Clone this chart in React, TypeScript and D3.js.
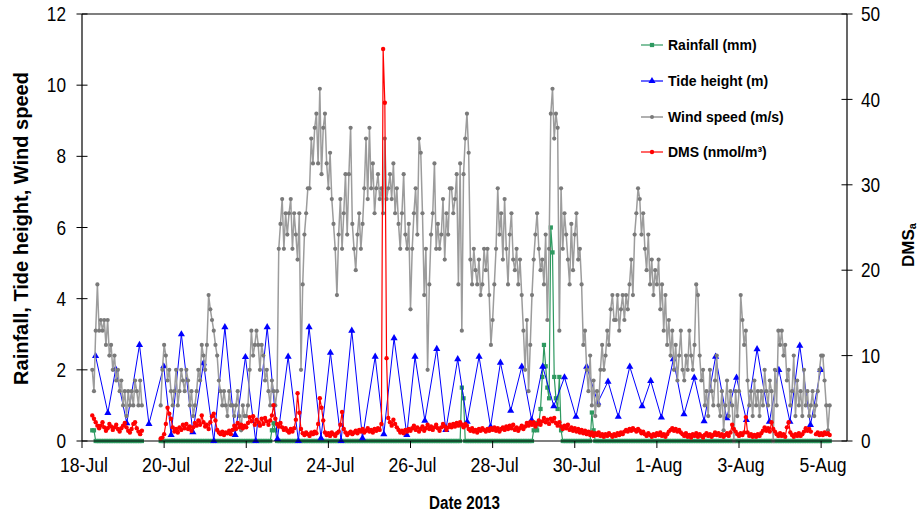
import { useEffect } from "react";
import * as d3 from "d3";

// hourly readings start 18-Jul 06:00; null = no record
const FIRST_READING = Date.UTC(2013, 6, 18, 6);

const windSpeed: (number | null)[] = [
  2.0, 1.4, 3.1, 4.4, 3.1, 3.4, 3.1, 3.4, 2.7, 3.4, 2.4, 2.7, 2.0, 2.4, 1.7, 2.0, 1.4, 1.7,
  1.0, 1.4, 0.7, 1.4, 1.0, 1.4, 1.0, 1.7, 1.4, 1.0, 1.7, 1.0, null, null, null, null, null, null, null, null, null, null, 1.0, 2.0,
  2.7, 2.4, 1.7, 2.0, 1.4, 1.0, 1.4, 2.0, 1.0, 1.4, 2.0, 1.7, 1.4, 2.0, 1.7, 1.0, 1.4, 0.7, 1.0, 1.4, 2.0, 1.7, 2.7, 2.4,
  2.0, 2.7, 4.1, 3.7, 3.4, 3.1, 2.7, 2.4, 1.7, 1.4, 1.0, 1.4, 1.0, 0.7, 1.4, 1.0, 1.0, 0.7, 1.0, 1.4, 0.7, 0.3, 1.0, 0.7,
  0.7, 1.0, 2.0, 3.1, 2.4, 2.7, 3.1, 2.7, 2.0, 2.7, 2.4, 1.7, 2.0, 1.4, 1.0, 1.7, 1.4, 1.0, 1.4, 5.4, 6.1, 6.8, 5.4, 6.4,
  5.8, 6.4, 6.8, 5.4, 6.4, 5.8, 5.1, 6.4, 2.0, 4.4, 5.8, 6.4, 7.1, 7.1, 8.5, 7.8, 8.8, 9.2, 7.8, 9.9, 7.5, 8.8, 9.2, 7.8,
  7.1, 8.1, 6.8, 6.1, 5.4, 4.1, 5.8, 6.8, 5.4, 6.4, 7.5, 5.8, 7.5, 8.8, 6.1, 5.4, 4.8, 5.8, 6.4, 5.4, 6.1, 7.1, 8.5, 6.8,
  8.8, 7.1, 7.8, 6.4, 7.1, 7.5, 6.8, 7.1, 6.4, 8.5, 6.8, 7.1, 7.5, 6.8, 7.8, 6.4, 7.1, 6.1, 5.4, 6.4, 7.5, 5.8, 5.4, 6.1,
  3.7, 5.4, 6.4, 7.1, 5.8, 8.5, 8.1, 6.4, 4.1, 5.4, 2.0, 4.4, 5.8, 6.4, 7.8, 5.4, 6.1, 5.4, 5.8, 6.8, 5.1, 6.4, 5.8, 7.1,
  7.1, 6.4, 6.8, 7.5, 4.4, 7.8, 3.1, 7.5, 8.5, 9.2, 8.1, 5.1, 4.4, 5.4, 4.8, 4.4, 5.1, 4.1, 4.4, 5.4, 4.8, 5.4, 4.1, 2.7,
  3.4, 4.4, 5.4, 7.1, 5.8, 6.4, 5.1, 6.8, 5.4, 4.4, 5.8, 6.4, 5.1, 4.8, 5.4, 4.4, 5.1, 4.1, 3.1, 2.0, 3.4, 1.4, 2.7, 4.1,
  5.1, 5.8, 6.4, 5.4, 4.8, 5.1, 4.4, 5.8, 3.4, 5.4, 9.2, 9.9, 8.5, 9.2, 8.8, 3.1, 7.1, 5.4, 6.4, 5.8, 5.1, 4.4, 6.1, 4.8,
  5.8, 6.4, 5.1, 5.4, 4.4, 2.7, 3.1, 2.0, 1.4, 2.4, 1.0, 1.7, 0.7, 1.4, 1.0, 2.0, 2.7, 2.0, 2.4, 3.1, 2.7, 3.7, 4.1, 3.4,
  3.4, 4.1, 3.1, 3.7, 4.1, 3.4, 4.1, 3.7, 4.4, 5.1, 4.1, 5.8, 6.4, 7.1, 6.8, 5.8, 6.4, 5.4, 4.8, 5.8, 4.4, 5.1, 4.1, 4.8,
  4.4, 5.1, 3.7, 4.4, 3.1, 4.1, 2.7, 3.4, 2.4, 3.1, 2.0, 2.7, 1.7, 2.4, 3.1, 2.0, 1.7, 2.4, 2.0, 3.1, 2.4, 2.0, 2.7, 4.4,
  4.1, 2.4, 1.7, 2.0, 1.0, 1.4, 0.7, 2.0, 1.4, 1.0, 1.7, 2.4, 1.0, 0.7, 1.4, 0.3, 1.0, 1.7, 0.7, 1.4, 1.0, 0.0, 1.4, 0.7,
  1.4, 4.1, 3.4, 2.7, 3.1, 1.7, 1.0, 1.4, 0.7, 1.7, 1.0, 1.4, 0.7, 1.4, 1.0, 2.0, 1.4, 1.0, 1.7, 1.4, 0.0, 2.0, 1.0, 3.1,
  2.7, 3.1, 2.4, 2.7, 1.7, 2.0, 1.0, 1.4, 2.4, 0.7, 1.7, 1.0, 1.4, 0.7, 2.0, 1.0, 1.4, 0.7, 1.0, 1.4, 0.7, 1.0, 1.4, 2.0,
  2.4, 2.4, 1.7, 1.0, 0.3, 1.0,
];

const dmsAir: (number | null)[] = [
  3.0, 2.6, 2.2, 1.8, 1.5, 1.8, 2.2, 1.6, 1.2, 1.5, 2.0, 1.7, 1.3, 1.6, 1.9, 1.4, 1.1, 1.5,
  1.8, 2.1, 1.6, 1.2, 1.0, 1.4, 2.0, 2.2, 1.5, 1.1, 0.8, 1.2, null, null, null, null, null, null, null, null, null, null, 0.3, 0.4,
  0.8, 2.0, 3.9, 3.2, 2.6, 1.6, 1.1, 1.4, 1.0, 1.6, 1.3, 1.9, 1.5, 2.0, 1.4, 1.7, 1.2, 1.6, 2.1, 1.8, 2.4, 1.9, 3.0, 2.2,
  1.7, 1.9, 1.4, 2.2, 2.9, 3.2, 2.4, 1.3, 1.0, 0.8, 1.1, 0.7, 1.0, 0.9, 1.2, 0.8, 1.3, 1.8, 1.4, 2.1, 1.6, 1.9, 1.5, 1.8,
  1.6, 2.1, 2.8, 2.3, 2.9, 1.9, 2.5, 2.2, 1.8, 2.6, 2.0, 2.7, 2.3, 1.9, 2.4, 3.0, 4.2, 2.6, 2.0, 1.7, 2.1, 1.6, 1.3, 1.5,
  1.2, 1.0, 1.4, 1.1, 1.5, 2.5, 5.6, 3.3, 1.4, 0.9, 0.7, 1.0, 0.8, 0.6, 1.0, 0.8, 1.1, 0.9, 2.0, 5.0, 3.9, 2.4, 1.0, 0.7,
  0.9, 0.6, 1.0, 0.8, 0.6, 0.9, 1.1, 1.9, 3.4, 1.4, 1.0, 0.7, 0.9, 1.1, 0.8, 1.0, 1.2, 0.9, 1.3, 1.1, 1.4, 1.0, 1.2, 1.5,
  1.1, 1.3, 1.0, 1.4, 1.2, 1.5, 1.3, 2.0, 45.9, 39.6, 9.7, 2.7, 2.2, 1.8, 2.5, 2.0, 1.6, 1.3, 1.0, 1.2, 0.9, 1.3, 1.1, 1.4,
  1.2, 1.5, 1.8, 1.3, 1.6, 1.1, 1.4, 1.7, 1.2, 1.5, 1.9, 1.4, 1.7, 1.3, 1.6, 1.9, 1.5, 1.2, 1.6, 2.0, 1.7, 1.3, 1.6, 1.9,
  1.6, 2.0, 1.7, 2.1, 1.8, 2.2, 1.9, 1.6, 2.0, 1.8, 1.4, 1.2, 1.5, 1.1, 1.3, 1.0, 1.4, 1.2, 1.5, 1.3, 1.1, 1.4, 1.2, 1.5,
  1.3, 1.6, 1.2, 1.5, 1.1, 1.4, 1.6, 1.3, 1.7, 1.4, 1.8, 1.5, 1.9, 1.3, 1.6, 1.2, 1.5, 1.8, 1.4, 1.7, 2.1, 1.8, 2.2, 1.9,
  2.2, 1.7, 2.0, 2.4, 1.9, 2.3, 2.7, 2.2, 2.5, 2.0, 2.6, 2.3, 2.7, 2.1, 1.8, 2.2, 1.7, 1.4, 1.8, 1.5, 1.9, 1.3, 1.6, 1.2,
  1.5, 1.1, 1.4, 1.0, 1.3, 0.9, 1.2, 0.8, 1.1, 0.7, 1.0, 0.6, 0.9, 0.7, 1.0, 0.6, 0.8, 0.5, 0.8, 0.6, 0.9, 0.7, 0.5, 0.8,
  0.6, 0.9, 0.7, 1.0, 0.8, 1.1, 1.3, 1.1, 1.4, 1.2, 1.5, 1.3, 1.1, 1.4, 1.2, 0.9, 1.1, 0.8, 0.6, 0.9, 0.7, 0.5, 0.8, 0.6,
  0.9, 0.7, 1.0, 0.6, 0.8, 0.5, 0.8, 1.1, 1.3, 1.5, 1.2, 1.4, 1.1, 1.3, 1.0, 0.8, 0.6, 0.9, 0.5, 0.7, 0.4, 0.8, 0.6, 0.9,
  0.5, 0.8, 0.6, 0.4, 0.7, 0.9, 0.6, 0.8, 0.5, 0.7, 1.0, 0.7, 0.9, 0.6, 0.8, 0.5, 0.7, 0.9, 0.6, 1.0, 1.9, 1.4, 1.1, 0.8,
  0.6, 0.9, 0.7, 1.0, 2.8, 1.0, 0.6, 0.8, 0.5, 0.7, 0.5, 0.8, 0.6, 0.9, 1.2, 1.6, 1.2, 1.5, 1.1, 2.2, 1.4, 1.1, 0.8, 0.6,
  0.9, 0.6, 0.8, 0.5, 1.6, 2.2, 1.0, 0.7, 0.5, 0.8, 0.6, 0.9, 0.6, 0.8, 1.1, 1.5, 1.2, 1.4, 1.1, null, null, 0.8, 1.0, 0.7,
  0.9, 0.7, 1.0, 0.8, 0.9, 0.7,
];

// rain showers: first hour (UTC) and hourly amounts; every other logged hour read as 0
const rainStart = [
  Date.UTC(2013, 6, 18, 6),
  Date.UTC(2013, 6, 22, 15),
  Date.UTC(2013, 6, 27, 6),
  Date.UTC(2013, 6, 29, 0),
  Date.UTC(2013, 6, 30, 10),
];
const rainAmounts = [
  [0.3, 0.3],
  [0.3, 0.5, 0.3],
  [1.5, 1.2],
  [0.3, 0.5, 0.3, 0.5, 0.9, 1.8, 2.7, 2.1, 1.5, 1.2, 6.0, 5.3, 1.8, 1.2, 0.9, 1.8, 0.3],
  [0.8, 0.3],
];

// tide turning points, days after 18-Jul 00:00
const tideDay = [
  0.33, 0.63, 0.82, 1.09, 1.4, 1.63, 1.99, 2.17, 2.42, 2.7, 2.96, 3.21, 3.48, 3.73, 3.98, 4.23,
  4.51, 4.76, 5.02, 5.27, 5.53, 5.82, 6.05, 6.31, 6.57, 6.83, 7.14, 7.35, 7.6, 7.91, 8.11, 8.35,
  8.64, 8.86, 9.15, 9.38, 9.67, 9.95, 10.19, 10.44, 10.71, 10.95, 11.22, 11.49, 11.75, 12.03,
  12.29, 12.56, 12.81, 13.06, 13.34, 13.64, 13.85, 14.11, 14.4, 14.66, 14.91, 15.15, 15.43,
  15.7, 15.94, 16.18, 16.44, 16.74, 16.97, 17.24, 17.48, 17.74, 17.99,
];
const tideHeight = [
  2.39, 0.79, 2.02, 0.5, 2.7, 0.48, 2.1, 0.17, 3.0, 0.25, 2.19, 0.0, 3.2, 0.17, 2.36, 0.0,
  3.2, 0.06, 2.37, 0.0, 3.2, 0.08, 2.48, 0.0, 3.1, 0.08, 2.37, 0.19, 2.89, 0.17, 2.37, 0.57,
  2.59, 0.31, 2.3, 0.54, 2.37, 0.4, 2.2, 0.85, 2.09, 0.59, 2.09, 0.98, 1.79, 0.68,
  2.09, 1.08, 1.67, 0.68, 2.09, 0.98, 1.69, 0.66, 2.3, 0.75, 1.78, 0.56, 2.37,
  0.64, 1.78, 0.59, 2.58, 0.54, 2.0, 0.54, 2.68, 0.45, 2.0,
];

const xTickDates = [
  "2013-07-18", "2013-07-20", "2013-07-22", "2013-07-24", "2013-07-26",
  "2013-07-28", "2013-07-30", "2013-08-01", "2013-08-03", "2013-08-05",
];
const leftTicks = [0, 2, 4, 6, 8, 10, 12];
const rightTicks = [0, 10, 20, 30, 40, 50];
const legendLabels = ["Rainfall (mm)", "Tide height (m)", "Wind speed (m/s)", "DMS (nmol/m\u00b3)"];

const W = 917;
const H = 516;
const M = { top: 14, right: 70, bottom: 75, left: 82 };
const HOUR = 3600000;
const DAY = 24 * HOUR;
const T0 = Date.UTC(2013, 6, 18);
const FONT = "'Liberation Sans', Arial, Helvetica, sans-serif";

const RAIN = "#2e9960";
const TIDE = "#0000ff";
const WIND_LINE = "#9c9c9c";
const WIND_DOT = "#7a7a7a";
const DMS = "#ff0000";

type Pt = [number, number | null];

export default function App() {
  useEffect(() => {
    document.body.style.margin = "0";
  }, []);

  const x = d3.scaleUtc().domain([T0, T0 + 18.63 * DAY]).range([M.left, W - M.right]);
  const y = d3.scaleLinear().domain([0, 12]).range([H - M.bottom, M.top]);
  const y2 = d3.scaleLinear().domain([0, 50]).range([H - M.bottom, M.top]);

  const hours = windSpeed.map((_, i) => FIRST_READING + i * HOUR);

  const rainLookup = new Map<number, number>();
  rainStart.forEach((s, k) => rainAmounts[k].forEach((v, j) => rainLookup.set(s + j * HOUR, v)));

  const windPts: Pt[] = hours.map((t, i) => [t, windSpeed[i]]);
  const dmsPts: Pt[] = hours.map((t, i) => [t, dmsAir[i]]);
  const rainPts: Pt[] = hours.map((t, i) => [t, windSpeed[i] === null ? null : rainLookup.get(t) ?? 0]);
  const tidePts: Pt[] = tideDay.map((d, i) => [T0 + d * DAY, tideHeight[i]]);

  const lineL = d3
    .line<Pt>()
    .defined((d) => d[1] != null)
    .x((d) => x(d[0]))
    .y((d) => y(d[1] as number));
  const lineR = d3
    .line<Pt>()
    .defined((d) => d[1] != null)
    .x((d) => x(d[0]))
    .y((d) => y2(d[1] as number));

  const tri = d3.symbol(d3.symbolTriangle, 22)() as string;
  const sq = d3.symbol(d3.symbolSquare, 18)() as string;
  const fmt = d3.utcFormat("%-d-%b");

  const x0 = M.left;
  const x1 = W - M.right;
  const yB = H - M.bottom;

  const legendY = [45, 81, 117, 152];

  return (
    <svg width={W} height={H} style={{ display: "block", background: "#fff" }} fontFamily={FONT}>
      {/* series, drawn in legend order */}
      <g>
        <path d={lineL(rainPts) || ""} fill="none" stroke={RAIN} strokeWidth={1.2} />
        {rainPts
          .filter((d) => d[1] != null)
          .map((d, i) => (
            <path key={"r" + i} d={sq} transform={`translate(${x(d[0])},${y(d[1] as number)})`} fill={RAIN} />
          ))}
      </g>
      <g>
        <path d={lineL(tidePts) || ""} fill="none" stroke={TIDE} strokeWidth={1} />
        {tidePts.map((d, i) => (
          <path key={"t" + i} d={tri} transform={`translate(${x(d[0])},${y(d[1] as number)})`} fill={TIDE} />
        ))}
      </g>
      <g>
        <path d={lineL(windPts) || ""} fill="none" stroke={WIND_LINE} strokeWidth={1.5} />
        {windPts
          .filter((d) => d[1] != null)
          .map((d, i) => (
            <circle key={"w" + i} cx={x(d[0])} cy={y(d[1] as number)} r={2.1} fill={WIND_DOT} />
          ))}
      </g>
      <g>
        <path d={lineR(dmsPts) || ""} fill="none" stroke={DMS} strokeWidth={1.2} />
        {dmsPts
          .filter((d) => d[1] != null)
          .map((d, i) => (
            <circle key={"d" + i} cx={x(d[0])} cy={y2(d[1] as number)} r={2.2} fill={DMS} />
          ))}
      </g>

      {/* frame and axes */}
      <line x1={x0} x2={x1} y1={M.top} y2={M.top} stroke="#000" strokeWidth={1.2} />
      <line x1={x0} x2={x0} y1={M.top} y2={yB} stroke="#000" strokeWidth={1.2} />
      <line x1={x1} x2={x1} y1={M.top} y2={yB} stroke="#000" strokeWidth={1.2} />
      <line x1={x0} x2={x1} y1={yB} y2={yB} stroke="#000" strokeWidth={1.2} />

      {leftTicks.map((v) => (
        <g key={"lt" + v}>
          <line x1={x0 - 5.5} x2={x0 + 5.5} y1={y(v)} y2={y(v)} stroke="#000" />
          <text
            transform={`translate(${x0 - 16},${y(v)}) scale(0.82,1)`}
            textAnchor="end"
            dominantBaseline="central"
            fontSize={21}
            fill="#000"
          >
            {v}
          </text>
        </g>
      ))}
      {rightTicks.map((v) => (
        <g key={"rt" + v}>
          <line x1={x1 - 5.5} x2={x1 + 5.5} y1={y2(v)} y2={y2(v)} stroke="#000" />
          <text
            transform={`translate(${x1 + 14},${y2(v)}) scale(0.82,1)`}
            textAnchor="start"
            dominantBaseline="central"
            fontSize={21}
            fill="#000"
          >
            {v}
          </text>
        </g>
      ))}
      {xTickDates.map((s) => {
        const t = new Date(s + "T00:00:00Z");
        const px = x(t);
        return (
          <g key={s}>
            <line x1={px} x2={px} y1={yB} y2={yB + 7} stroke="#000" />
            <text
              transform={`translate(${px + 2},${yB + 31}) scale(0.84,1)`}
              textAnchor="middle"
              fontSize={21}
              fill="#000"
            >
              {fmt(t)}
            </text>
          </g>
        );
      })}

      {/* titles */}
      <text
        transform={`translate(${(x0 + x1) / 2},${H - 7}) scale(0.8,1)`}
        textAnchor="middle"
        fontSize={19}
        fontWeight="bold"
        fill="#000"
      >
        Date 2013
      </text>
      <text
        transform={`translate(21,${(M.top + yB) / 2 + 1}) rotate(-90)`}
        textAnchor="middle"
        dominantBaseline="central"
        fontSize={20}
        fontWeight="bold"
        fill="#000"
      >
        Rainfall, Tide height, Wind speed
      </text>
      <text
        transform={`translate(908,245) rotate(-90)`}
        textAnchor="middle"
        dominantBaseline="central"
        fontSize={17}
        fontWeight="bold"
        fill="#000"
      >
        DMS
        <tspan fontSize={11} dy={4}>
          a
        </tspan>
      </text>

      {/* legend */}
      {legendLabels.map((label, i) => {
        const ly = legendY[i];
        const colors = [RAIN, TIDE, "#b0b0b0", DMS];
        return (
          <g key={label}>
            <line x1={641} x2={663} y1={ly} y2={ly} stroke={colors[i]} strokeWidth={i === 2 ? 2 : 1.2} />
            {i === 0 && <path d={sq} transform={`translate(652,${ly})`} fill={RAIN} />}
            {i === 1 && <path d={tri} transform={`translate(652,${ly})`} fill={TIDE} />}
            {i === 2 && <circle cx={652} cy={ly} r={2} fill={WIND_DOT} />}
            {i === 3 && <circle cx={652} cy={ly} r={2.2} fill={DMS} />}
            <text x={668} y={ly} dominantBaseline="central" fontSize={14} fontWeight="bold" fill="#000">
              {label}
            </text>
          </g>
        );
      })}
    </svg>
  );
}
